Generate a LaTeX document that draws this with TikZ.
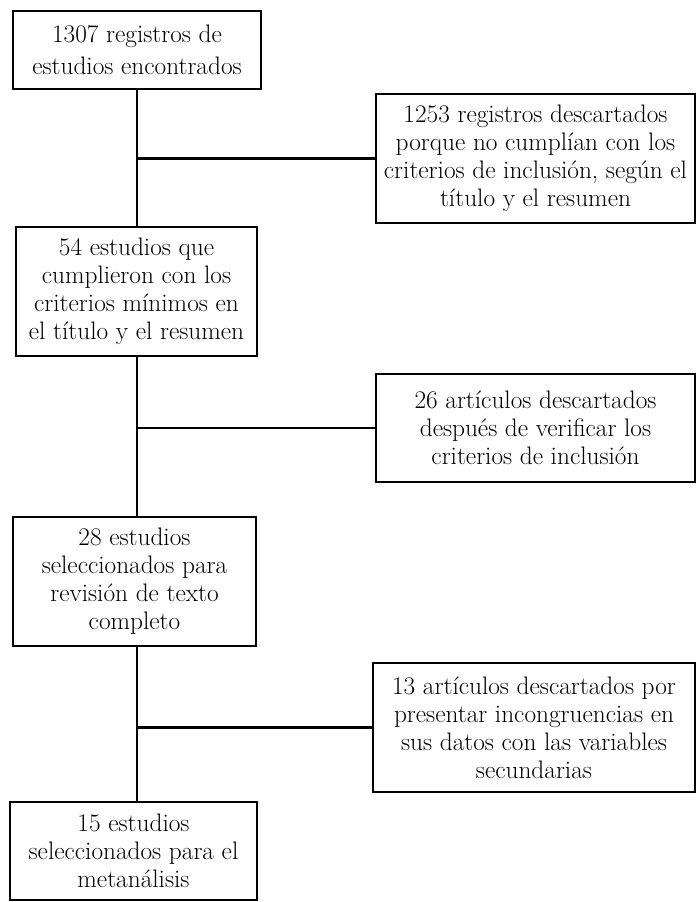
\documentclass[tikz,border=0pt]{standalone}
\usepackage{fontspec}
\usetikzlibrary{positioning}

\newlength{\pxlen}
\setlength{\pxlen}{0.025cm}

\tikzset{
  caja/.style={draw, line width=2.1pt, align=center, inner sep=0pt,
    font=\fontsize{18}{19.9}\selectfont},
  linea/.style={line width=1.9pt}
}

\begin{document}
\begin{tikzpicture}[x=0.025cm, y=-0.025cm]

    \useasboundingbox (0,0) rectangle (697,902);

    % left column
    \node[caja, minimum width=248*\pxlen, minimum height=78*\pxlen] (reg) at (137,50)
      {1307 registros de\\[3pt] estudios encontrados};
    \node[caja, minimum width=241*\pxlen, minimum height=129*\pxlen] (minimos) at (136.5,291.5)
      {54 estudios que\\ cumplieron con los\\ criterios mínimos en\\ el título y el resumen};
    \node[caja, minimum width=243*\pxlen, minimum height=129*\pxlen] (texto) at (134.5,581.5)
      {28 estudios\\ seleccionados para\\ revisión de texto\\ completo};
    \node[caja, minimum width=247*\pxlen, minimum height=98*\pxlen] (meta) at (133.5,851)
      {15 estudios\\ seleccionados para el\\ metanálisis};

    % right column
    \node[caja, minimum width=319*\pxlen, minimum height=129*\pxlen] (desc1) at (535.5,158.5)
      {1253 registros descartados\\ porque no cumplían con los\\ criterios de inclusión, según el\\ título y el resumen};
    \node[caja, minimum width=319*\pxlen, minimum height=108*\pxlen] (desc2) at (535.5,428)
      {26 artículos descartados\\ después de verificar los\\ criterios de inclusión};
    \node[caja, minimum width=322*\pxlen, minimum height=129*\pxlen] (desc3) at (534,727.5)
      {13 artículos descartados por\\ presentar incongruencias en\\ sus datos con las variables\\ secundarias};

    % draw connectors
    \draw[linea] (reg.south) -- (reg.south |- minimos.north);
    \draw[linea] (reg.south |- minimos.south) -- (reg.south |- texto.north);
    \draw[linea] (reg.south |- texto.south) -- (reg.south |- meta.north);

    \coordinate (j1) at (reg.south |- desc1.west);
    \coordinate (j2) at (reg.south |- desc2.west);
    \coordinate (j3) at (reg.south |- desc3.west);
    \draw[linea] (j1) -- (desc1.west);
    \draw[linea] (j2) -- (desc2.west);
    \draw[linea] (j3) -- (desc3.west);

\end{tikzpicture}
\end{document}
